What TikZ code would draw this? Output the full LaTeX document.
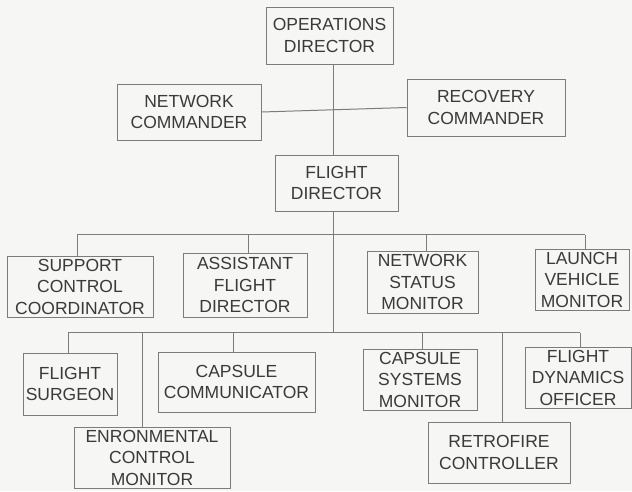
\documentclass[tikz,border=0pt]{standalone}
\usepackage{fontspec}
\setmainfont{Liberation Sans}
\definecolor{bg}{HTML}{F6F6F4}
\definecolor{ink}{HTML}{7C7C7C}
\definecolor{txt}{HTML}{3A3A3A}
\begin{document}
\begin{tikzpicture}[x=1pt,y=-1pt,
  box/.style={draw=ink, line width=1pt, text=txt, align=center, inner sep=0pt,
    font=\fontsize{17.5}{21.5}\selectfont},
  link/.style={draw=ink, line width=1pt}]
\fill[bg] (0,0) rectangle (632,491);
\useasboundingbox (0,0) rectangle (632,491);

% boxes
\node[box, minimum width=127pt, minimum height=57pt] (ops) at (329.5,35.5) {OPERATIONS\\DIRECTOR};
\node[box, minimum width=144pt, minimum height=56pt] (netcmd) at (189,112) {NETWORK\\COMMANDER};
\node[box, minimum width=158pt, minimum height=57pt] (reccmd) at (486,107.5) {RECOVERY\\COMMANDER};
\node[box, minimum width=123pt, minimum height=56pt] (fd) at (336.5,183) {FLIGHT\\DIRECTOR};

\node[box, minimum width=146pt, minimum height=61pt] (scc) at (80,286.5) {SUPPORT\\CONTROL\\COORDINATOR};
\node[box, minimum width=124pt, minimum height=64pt] (afd) at (245,285) {ASSISTANT\\FLIGHT\\DIRECTOR};
\node[box, minimum width=111pt, minimum height=62pt] (nsm) at (422.5,282) {NETWORK\\STATUS\\MONITOR};
\node[box, minimum width=94pt, minimum height=61pt] (lvm) at (582,279.5) {LAUNCH\\VEHICLE\\MONITOR};

\node[box, minimum width=94pt, minimum height=62pt] (fs) at (70,384) {FLIGHT\\SURGEON};
\node[box, minimum width=157pt, minimum height=60pt] (cc) at (236.5,382) {CAPSULE\\COMMUNICATOR};
\node[box, minimum width=156pt, minimum height=61pt] (ecm) at (152,457.5) {ENRONMENTAL\\CONTROL\\MONITOR};
\node[box, minimum width=114pt, minimum height=61pt] (csm) at (420,379.5) {CAPSULE\\SYSTEMS\\MONITOR};
\node[box, minimum width=106pt, minimum height=61pt] (fdo) at (578,377.5) {FLIGHT\\DYNAMICS\\OFFICER};
\node[box, minimum width=142pt, minimum height=61pt] (rc) at (499,452.5) {RETROFIRE\\CONTROLLER};

% connector geometry
\coordinate (trunk) at (333.5,0);
\coordinate (b1l) at (77,234.5);
\coordinate (b1r) at (585,234.5);
\coordinate (b2l) at (68,332.5);
\coordinate (b2r) at (580,332.5);
\coordinate (d12) at (248,0);
\coordinate (d13) at (426,0);
\coordinate (d22) at (142,0);
\coordinate (d23) at (233,0);
\coordinate (d24) at (422.5,0);
\coordinate (d25) at (502,0);

% upper connectors
\draw[link] (ops.south -| trunk) -- (fd.north -| trunk);
\draw[link] (netcmd.east) -- (reccmd.west);

% trunk down from flight director
\draw[link] (fd.south -| trunk) -- (trunk |- b2l);

% first bus
\draw[link] (b1l) -- (b1r);
\draw[link] (b1l) -- (scc.north -| b1l);
\draw[link] (d12 |- b1l) -- (afd.north -| d12);
\draw[link] (d13 |- b1l) -- (nsm.north -| d13);
\draw[link] (b1r) -- (lvm.north -| b1r);

% second bus
\draw[link] (b2l) -- (b2r);
\draw[link] (b2l) -- (fs.north -| b2l);
\draw[link] (d22 |- b2l) -- (ecm.north -| d22);
\draw[link] (d23 |- b2l) -- (cc.north -| d23);
\draw[link] (d24 |- b2l) -- (csm.north -| d24);
\draw[link] (d25 |- b2l) -- (rc.north -| d25);
\draw[link] (b2r) -- (fdo.north -| b2r);
\end{tikzpicture}
\end{document}
